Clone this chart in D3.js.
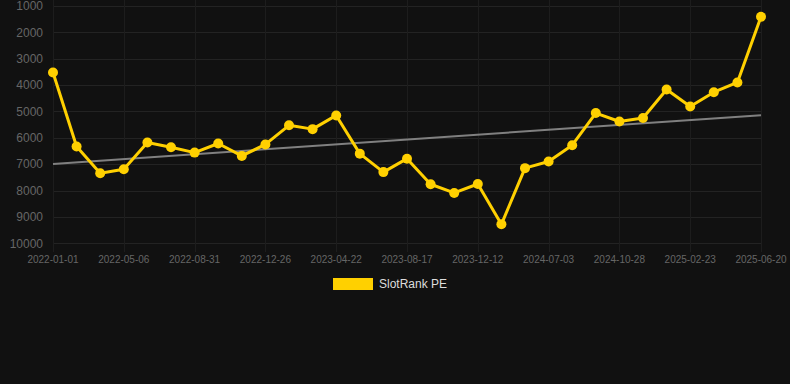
<!doctype html>
<html lang="en">
<head>
  <meta charset="utf-8" />
  <title>SlotRank PE</title>
  <script src="https://cdn.jsdelivr.net/npm/d3@7"></script>
  <style>
    html, body { margin: 0; padding: 0; background: #111111; }
    svg { display: block; font-family: "Liberation Sans", Arial, sans-serif; }
  </style>
</head>
<body>
<script>
  // data
  var dates = [
    "2022-01-01", "2022-02-12", "2022-03-26", "2022-05-06", "2022-06-14", "2022-07-23",
    "2022-08-31", "2022-10-09", "2022-11-17", "2022-12-26", "2023-02-03", "2023-03-14",
    "2023-04-22", "2023-05-31", "2023-07-09", "2023-08-17", "2023-09-25", "2023-11-03",
    "2023-12-12", "2024-02-18", "2024-04-26", "2024-07-03", "2024-08-11", "2024-09-19",
    "2024-10-28", "2024-12-06", "2025-01-14", "2025-02-23", "2025-04-03", "2025-05-12",
    "2025-06-20"
  ];
  var rankPE = [
    3520, 6330, 7340, 7190, 6180, 6355, 6560, 6215, 6685, 6250, 5525,
    5670, 5150, 6600, 7300, 6790, 7760, 8090, 7750, 9280, 7150,
    6900, 6280, 5060, 5380, 5250, 4170, 4810, 4270, 3900, 1410
  ];
  var trendEnds = [6990, 5140]; // value of the trend line at first and last date
  var yTicks = [1000, 2000, 3000, 4000, 5000, 6000, 7000, 8000, 9000, 10000];
  var seriesName = "SlotRank PE";

  var width = 790, height = 384;
  var yellow = "#ffd000";

  var svg = d3.select("body").append("svg")
    .attr("width", width)
    .attr("height", height);

  var x = d3.scalePoint()
    .domain(dates)
    .range([53, 761]);

  var y = d3.scaleLinear()
    .domain([1000, 10000])
    .range([6, 243.3]);

  // grid - horizontal
  svg.append("g")
    .selectAll("line")
    .data(yTicks)
    .enter().append("line")
    .attr("x1", 53)
    .attr("x2", 761)
    .attr("y1", function(d) { return Math.round(y(d)) + 0.5; })
    .attr("y2", function(d) { return Math.round(y(d)) + 0.5; })
    .attr("stroke", "#232323")
    .attr("stroke-width", 1);

  // grid - vertical, only where a label is shown (every 3rd date)
  var shown = dates.filter(function(d, i) { return i % 3 === 0; });
  svg.append("g")
    .selectAll("line")
    .data(shown)
    .enter().append("line")
    .attr("x1", function(d) { return Math.round(x(d)) + 0.5; })
    .attr("x2", function(d) { return Math.round(x(d)) + 0.5; })
    .attr("y1", 0)
    .attr("y2", 252)
    .attr("stroke", "#1d1d1d")
    .attr("stroke-width", 1);

  // y axis labels
  svg.append("g")
    .selectAll("text")
    .data(yTicks)
    .enter().append("text")
    .attr("x", 43)
    .attr("y", function(d) { return y(d); })
    .attr("dy", "0.35em")
    .attr("text-anchor", "end")
    .attr("fill", "#666666")
    .style("font-size", "12px")
    .text(function(d) { return d; });

  // x axis labels
  svg.append("g")
    .selectAll("text")
    .data(shown)
    .enter().append("text")
    .attr("x", function(d) { return x(d); })
    .attr("y", 263)
    .attr("text-anchor", "middle")
    .attr("fill", "#666666")
    .style("font-size", "10px")
    .text(function(d) { return d; });

  // trend line
  svg.append("line")
    .attr("x1", x(dates[0]))
    .attr("x2", x(dates[dates.length - 1]))
    .attr("y1", y(trendEnds[0]))
    .attr("y2", y(trendEnds[1]))
    .attr("stroke", "#808080")
    .attr("stroke-width", 2);

  // series line
  var line = d3.line()
    .x(function(d, i) { return x(dates[i]); })
    .y(function(d) { return y(d); });

  svg.append("path")
    .datum(rankPE)
    .attr("fill", "none")
    .attr("stroke", yellow)
    .attr("stroke-width", 3)
    .attr("stroke-linejoin", "round")
    .attr("d", line);

  svg.append("g")
    .selectAll("circle")
    .data(rankPE)
    .enter().append("circle")
    .attr("cx", function(d, i) { return x(dates[i]); })
    .attr("cy", function(d) { return y(d); })
    .attr("r", 5)
    .attr("fill", yellow);

  // legend
  svg.append("rect")
    .attr("x", 333)
    .attr("y", 278)
    .attr("width", 40)
    .attr("height", 12)
    .attr("fill", yellow);

  svg.append("text")
    .attr("x", 379)
    .attr("y", 284)
    .attr("dy", "0.35em")
    .attr("fill", "#dddddd")
    .style("font-size", "12px")
    .text(seriesName);
</script>
</body>
</html>
